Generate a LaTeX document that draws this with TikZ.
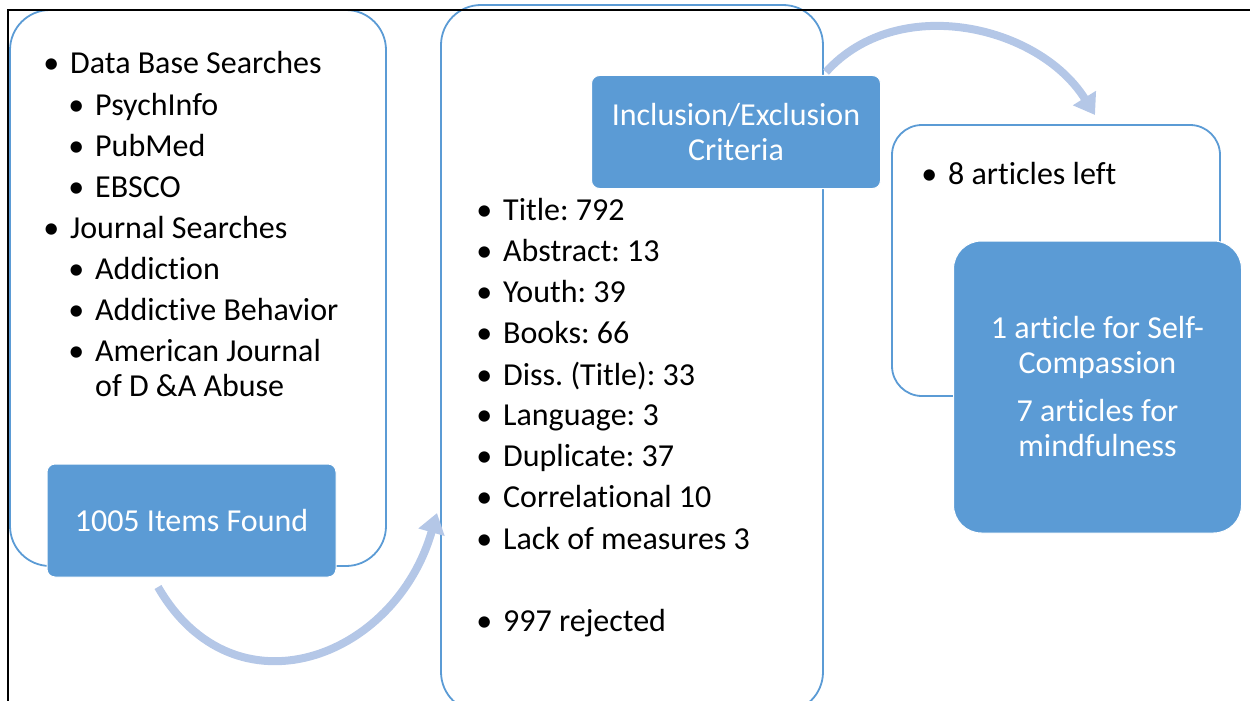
\documentclass[tikz,border=0pt]{standalone}
\usepackage{fontspec}
\setmainfont{Carlito}[RawFeature={-liga;-clig;-calt}]
\usetikzlibrary{arrows.meta,positioning}

\definecolor{smblue}{HTML}{5B9BD5}
\definecolor{smarrow}{HTML}{B4C7E7}
\newcommand\itembul{\llap{\textbullet\hspace{11pt}}}
\frenchspacing

\tikzset{
  wbox/.style={draw=smblue, line width=1.8pt, fill=white, rounded corners=40pt, inner sep=0pt},
  bbox/.style={fill=smblue, draw=white, line width=1pt, rounded corners=8pt, text=white,
               align=center, inner sep=0pt, font=\fontsize{32}{35}\selectfont},
  item/.style={anchor=base west, inner sep=0pt, font=\fontsize{32}{35}\selectfont},
  flow/.style={smarrow, line width=8pt, -{Triangle[length=20pt,width=26pt]}}
}

\begin{document}
\begin{tikzpicture}[x=1pt,y=-1pt]
            \useasboundingbox (0,0) rectangle (1250,701);
            \clip (0,0) rectangle (1250,701);

            % white boxes
            \node[wbox, minimum width=376pt, minimum height=556pt] (search) at (198,288) {};
            \node[wbox, minimum width=382pt, minimum height=707pt] (screen) at (632,358.5) {};
            \node[wbox, minimum width=328pt, minimum height=271pt, rounded corners=30pt] (left) at (1056,260.5) {};

            % blue boxes
            \node[bbox, minimum width=289pt, minimum height=113pt] (found) at (191.5,520.5) {1005 Items Found};
            \node[bbox, minimum width=289pt, minimum height=113pt] (incl) at (736,132) {Inclusion/Exclusion\\Criteria};
            \node[bbox, minimum width=288pt, minimum height=292pt, rounded corners=28pt] (result) at (1097.5,387)
                 {1 article for Self-\\Compassion\\[13pt]7 articles for\\mindfulness};

            % search list
            \foreach \xx/\yy/\txt [count=\i] in {70/74/\itembul Data Base Searches, 95/115/\itembul PsychInfo,
                    95/156/\itembul PubMed, 95/197/\itembul EBSCO, 70/238/\itembul Journal Searches,
                    95/279/\itembul Addiction, 95/320/\itembul Addictive Behavior,
                    95/361/\itembul American Journal, 95/396/of D \&A Abuse}
                \node[item] (s\i) at (\xx,\yy) {\txt};

            % rejected list
            \foreach \yy/\txt [count=\i] in {220/Title: 792, 261/Abstract: 13, 302/Youth: 39, 343/Books: 66,
                    385/Diss. (Title): 33, 425/Language: 3, 466/Duplicate: 37, 507/Correlational 10,
                    549/Lack of measures 3, 631/997 rejected}
                \node[item] (r\i) at (503,\yy) {\itembul\txt};

            \node[item] (kept) at (948,184) {\itembul 8 articles left};

            % arrows
            \coordinate (a1s) at (158,587);
            \coordinate (a1e) at (437,513);
            \coordinate (a2s) at (826,72);
            \coordinate (a2e) at (1095,115);
            \draw[flow] (a1s) to[out=-60, in=-106, looseness=1.35] (a1e);
            \draw[flow] (a2s) to[out=48, in=122] (a2e);

            % frame
            \draw[black, line width=2pt] (8,701) -- (8,10) -- (1250,10);
        \end{tikzpicture}
\end{document}
